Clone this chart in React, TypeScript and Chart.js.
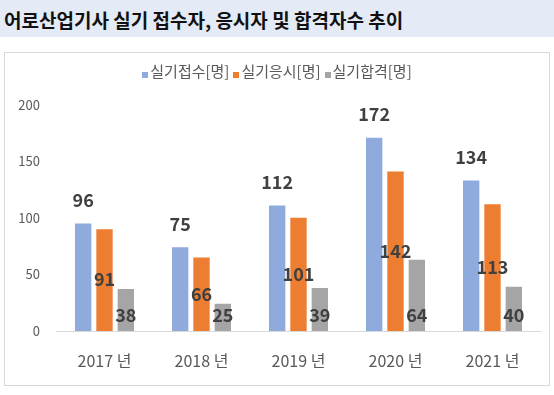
import React, { useEffect, useRef } from "react";
import { Chart, registerables } from "chart.js";

Chart.register(...registerables);

const title = "어로산업기사 실기 접수자, 응시자 및 합격자수 추이";
const categories = ["2017 년", "2018 년", "2019 년", "2020 년", "2021 년"];
const seriesNames = ["실기접수[명]", "실기응시[명]", "실기합격[명]"];
const applied = [96, 75, 112, 172, 134];
const tested = [91, 66, 101, 142, 113];
const passed = [38, 25, 39, 64, 40];
const colors = ["#8faadc", "#ed7d31", "#a5a5a5"];
const yTicks = [0, 50, 100, 150, 200];

const FONT = '"Noto Sans CJK KR", "Noto Sans", sans-serif';

const labelPlugin = {
  id: "barLabels",
  afterDatasetsDraw(chart: any) {
    const ctx = chart.ctx;
    ctx.save();
    ctx.font = `bold 18px ${FONT}`;
    ctx.fillStyle = "#404040";
    ctx.textAlign = "center";
    ctx.textBaseline = "middle";
    chart.data.datasets.forEach((ds: any, i: number) => {
      const meta = chart.getDatasetMeta(i);
      meta.data.forEach((bar: any, j: number) => {
        const v = ds.data[j];
        let y;
        if (i === 0) y = bar.y - 22;
        else if (i === 1) y = (bar.y + bar.base) / 2;
        else y = bar.base - 16;
        ctx.fillText(String(v), bar.x, y);
      });
    });
    ctx.restore();
  },
};

export default function App() {
  const ref = useRef<HTMLCanvasElement>(null);
  useEffect(() => {
    if (!ref.current) return;
    const datasets = [applied, tested, passed].map((d, i) => ({
      label: seriesNames[i],
      data: d,
      backgroundColor: colors[i],
      borderColor: "rgba(255,255,255,0.45)",
      borderWidth: 1,
      categoryPercentage: 0.66,
      barPercentage: 0.86,
    }));
    const chart = new Chart(ref.current, {
      type: "bar",
      data: { labels: categories, datasets },
      plugins: [labelPlugin],
      options: {
        animation: false,
        responsive: false,
        maintainAspectRatio: false,
        layout: { padding: { top: 52, right: 8, left: 0, bottom: 0 } },
        plugins: { legend: { display: false }, tooltip: { enabled: false } },
        scales: {
          x: {
            grid: { display: false, drawTicks: false },
            border: { display: true, color: "#d9d9d9", width: 1 },
            ticks: { color: "#595959", font: { family: FONT, size: 16 }, padding: 20 },
            afterFit: (s: any) => {
              s.height = 54;
            },
          },
          y: {
            min: 0,
            max: 200,
            grid: { display: false, drawTicks: false },
            border: { display: false },
            afterBuildTicks: (s: any) => {
              s.ticks = yTicks.map((v) => ({ value: v }));
            },
            ticks: { color: "#595959", font: { family: FONT, size: 13 }, padding: 16 },
            afterFit: (s: any) => {
              s.width = 51;
            },
          },
        },
      },
    });
    return () => chart.destroy();
  }, []);

  return (
    <div style={{ position: "absolute", left: 0, top: 0, width: 554, height: 395, background: "#fff", fontFamily: FONT }}>
      <div
        style={{
          position: "absolute",
          left: 0,
          top: 0,
          width: 554,
          height: 37,
          background: "#e4ebf6",
          fontWeight: "bold",
          fontSize: 19,
          lineHeight: "40px",
          color: "#111",
          paddingLeft: 4,
          boxSizing: "border-box",
          whiteSpace: "nowrap",
        }}
      >
        {title}
      </div>
      <div
        style={{
          position: "absolute",
          left: 4,
          top: 52,
          width: 546,
          height: 334,
          border: "1px solid #d9d9d9",
          boxSizing: "border-box",
        }}
      >
        <canvas ref={ref} width={544} height={332} style={{ display: "block", width: 544, height: 332 }} />
        <div
          style={{
            position: "absolute",
            left: 0,
            top: 8,
            width: 544,
            display: "flex",
            justifyContent: "center",
            alignItems: "center",
            fontSize: 15,
            color: "#595959",
            lineHeight: "20px",
          }}
        >
          {seriesNames.map((n, i) => (
            <span key={n} style={{ display: "flex", alignItems: "center", marginRight: i < 2 ? 4 : 0 }}>
              <span
                style={{
                  display: "inline-block",
                  width: 6,
                  height: 6,
                  background: colors[i],
                  marginRight: 2,
                  marginTop: 7,
                }}
              />
              <span>{n}</span>
            </span>
          ))}
        </div>
      </div>
    </div>
  );
}
